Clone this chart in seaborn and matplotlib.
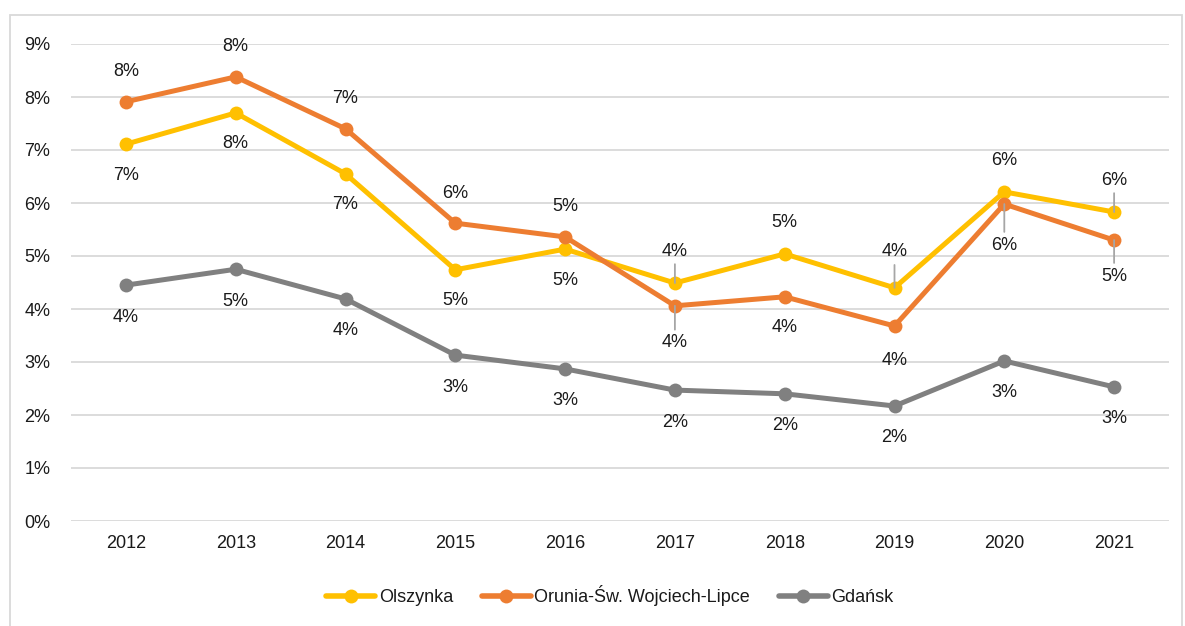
import matplotlib
matplotlib.use("Agg")
import matplotlib.pyplot as plt
import seaborn as sns
import pandas as pd
from matplotlib.patches import Rectangle

years = ["2012", "2013", "2014", "2015", "2016", "2017", "2018", "2019", "2020", "2021"]
olszynka = [7.11, 7.70, 6.55, 4.74, 5.13, 4.49, 5.04, 4.40, 6.21, 5.83]
orunia = [7.91, 8.38, 7.40, 5.62, 5.36, 4.06, 4.23, 3.68, 5.98, 5.30]
gdansk = [4.45, 4.75, 4.19, 3.13, 2.87, 2.47, 2.40, 2.17, 3.02, 2.53]
series_names = ["Olszynka", "Orunia-Św. Wojciech-Lipce", "Gdańsk"]
colors = ["#FFC000", "#ED7D31", "#808080"]
yticks = [0, 1, 2, 3, 4, 5, 6, 7, 8, 9]

# label placement: (vertical offset in px, leader line)
place = {
    "Olszynka": [(31, False)] * 5 + [(-32, True), (-31, False), (-36, True), (-31, False), (-32, True)],
    "Orunia-Św. Wojciech-Lipce": [(-30, False)] * 5 + [(37, True), (31, False), (35, False), (41, True), (36, True)],
    "Gdańsk": [(32, False)] * 10,
}

sns.set_theme(style="white")
plt.rcParams["font.family"] = ["Liberation Sans", "DejaVu Sans"]
fs = 13
text_color = "#1a1a1a"

df = pd.DataFrame({
    "year": years * 3,
    "value": [v / 100 for v in olszynka + orunia + gdansk],
    "series": sum([[n] * len(years) for n in series_names], []),
})

fig = plt.figure(figsize=(11.85, 6.26), dpi=100)
ax = fig.add_axes([71 / 1185, 1 - 521 / 626, (1169 - 71) / 1185, (521 - 44) / 626])

sns.lineplot(data=df, x="year", y="value", hue="series", palette=colors,
             marker="o", markersize=10, markeredgewidth=0, linewidth=3.6,
             sort=False, ax=ax, legend=True)

ax.set_xlim(-0.5, len(years) - 0.5)
ax.set_ylim(0, 0.09)
ax.set_yticks([t / 100 for t in yticks])
ax.set_yticklabels([f"{t}%" for t in yticks])
ax.grid(axis="y", color="#D9D9D9", linewidth=1.3)
ax.set_axisbelow(True)
for s in ax.spines.values():
    s.set_visible(False)
ax.set_xlabel("")
ax.set_ylabel("")
ax.tick_params(axis="both", length=0, labelsize=fs, colors=text_color)
ax.tick_params(axis="y", pad=15)
ax.tick_params(axis="x", pad=10)

for name, vals in zip(series_names, [olszynka, orunia, gdansk]):
    for i, v in enumerate(vals):
        off, leader = place[name][i]
        label = f"{round(v):.0f}%"
        ax.annotate(label, xy=(i, v / 100), xytext=(0, -off * 0.72),
                    textcoords="offset points", ha="center", va="center",
                    fontsize=fs, color=text_color, zorder=5,
                    arrowprops=dict(arrowstyle="-", color="#A6A6A6", lw=1.3,
                                    shrinkA=1, shrinkB=0) if leader else None)

handles, labels = ax.get_legend_handles_labels()
for h in handles:
    h.set_linewidth(4)
ax.legend(handles, labels, loc="center", bbox_to_anchor=(610 / 1185, 1 - 596 / 626),
          bbox_transform=fig.transFigure, ncol=3, frameon=False, fontsize=fs,
          handlelength=2.7, columnspacing=1.6, handletextpad=0.2, labelcolor=text_color)

fig.patches.append(Rectangle((10 / 1185, -0.01), 1172 / 1185, 1 - 15 / 626 + 0.01,
                             transform=fig.transFigure, fill=False,
                             edgecolor="#D9D9D9", linewidth=1.3))

fig.savefig("out.png", dpi=100, facecolor="white")
